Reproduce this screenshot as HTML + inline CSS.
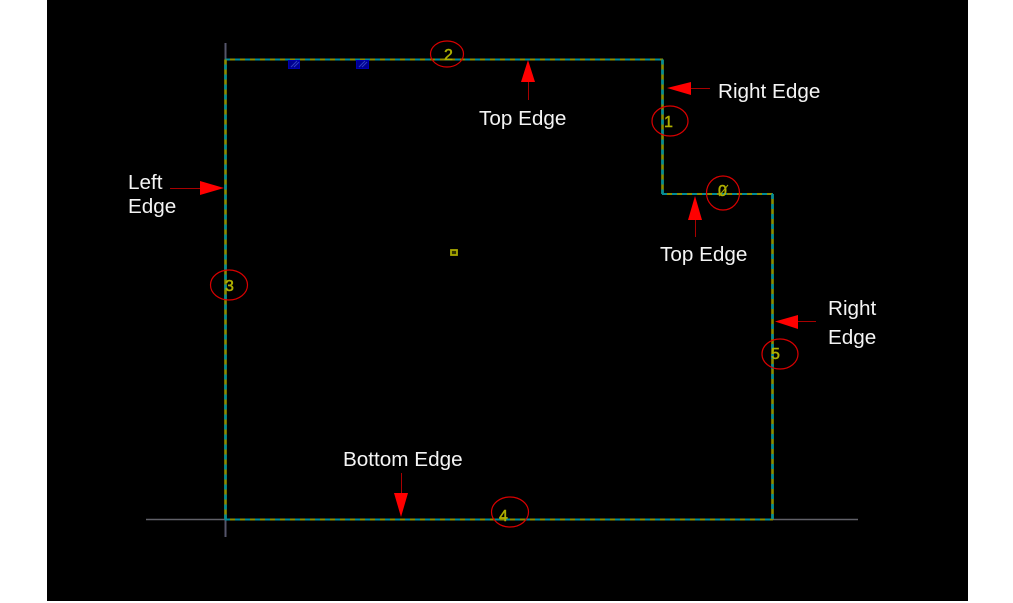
<!DOCTYPE html>
<html>
<head>
<meta charset="utf-8">
<style>
html,body{margin:0;padding:0;background:#fff;width:1013px;height:603px;overflow:hidden}
svg{display:block}
text{font-family:"Liberation Sans",sans-serif}
.l{font-size:20.7px;fill:#f4f4f4}
.n{font-family:"Liberation Sans",sans-serif;font-size:16px;fill:#b0b000;stroke:#b0b000;stroke-width:.5px}
</style>
</head>
<body>
<svg width="1013" height="603" viewBox="0 0 1013 603" xmlns="http://www.w3.org/2000/svg">
<rect x="47" y="0" width="921" height="601" fill="#000"/>
<!-- gray construction lines -->
<path d="M225.500 43V537" stroke="#55556a" stroke-width="2" fill="none"/>
<path d="M146 519.500H858" stroke="#606068" stroke-width="1.500" fill="none"/>
<!-- outline: horizontal runs -->
<path d="M225 59.500H663M662 194H773M225 519.500H773" fill="none" stroke="#8c8c00" stroke-width="2"/>
<path d="M225 59.500H663M662 194H773M225 519.500H773" fill="none" stroke="#008c9a" stroke-width="2" stroke-dasharray="5 5"/>
<!-- outline: vertical runs -->
<path d="M225.500 519.500V59.500M662.500 59.500V194M772.500 194V519.500" fill="none" stroke="#8c8c00" stroke-width="2.600"/>
<path d="M225.500 519.500V59.500M662.500 59.500V194M772.500 194V519.500" fill="none" stroke="#008c9a" stroke-width="2.600" stroke-dasharray="5 5"/>
<!-- blue markers -->
<rect x="288.500" y="60.500" width="11" height="8" fill="#000090" stroke="#0000b0" stroke-width="1"/>
<rect x="356.500" y="60.500" width="12" height="8" fill="#000090" stroke="#0000b0" stroke-width="1"/>
<g stroke="#2f3fc0" stroke-width="1" fill="none">
<path d="M291 67l6-6M294 67l5-5M359 67l6-6M362 67l5-5"/>
</g>
<!-- small yellow marker -->
<rect x="451" y="250" width="6" height="5" fill="#333300" stroke="#a8a800" stroke-width="1.800"/>
<!-- numbers -->
<text class="n" x="444" y="60">2</text>
<text class="n" x="664" y="127">1</text>
<text class="n" x="718" y="196">0</text>
<path d="M719 196l9-11" stroke="#a8a800" stroke-width="1"/>
<text class="n" x="225" y="291">3</text>
<text class="n" x="771" y="359">5</text>
<text class="n" x="499" y="521">4</text>
<!-- circles -->
<g fill="none" stroke="#d80000" stroke-width="1.200">
<ellipse cx="447" cy="54" rx="16.500" ry="13"/>
<ellipse cx="670" cy="121" rx="18" ry="15"/>
<ellipse cx="723" cy="193" rx="16.500" ry="17"/>
<ellipse cx="229" cy="285" rx="18.500" ry="15"/>
<ellipse cx="780" cy="354" rx="18" ry="15"/>
<ellipse cx="510" cy="512" rx="18.500" ry="15"/>
</g>
<!-- arrows -->
<g fill="#ff0000" stroke="none">
<polygon points="528,60 521,82 535,82"/>
<polygon points="667,88 691,82 691,95"/>
<polygon points="695,196 688,220 702,220"/>
<polygon points="224,188 200,181 200,195"/>
<polygon points="775,321.500 798,315 798,329"/>
<polygon points="401,517 394,493 408,493"/>
</g>
<g stroke="#a80000" stroke-width="1" fill="none">
<path d="M528.500 82V100"/>
<path d="M691 88.500H710"/>
<path d="M695.500 220V237"/>
<path d="M170 188.500H200"/>
<path d="M798 321.500H816"/>
<path d="M401.500 473V493"/>
</g>
<!-- labels -->
<text class="l" x="479" y="125">Top Edge</text>
<text class="l" x="718" y="98">Right Edge</text>
<text class="l" x="660" y="261">Top Edge</text>
<text class="l" x="128" y="189">Left</text>
<text class="l" x="128" y="213">Edge</text>
<text class="l" x="828" y="315">Right</text>
<text class="l" x="828" y="344">Edge</text>
<text class="l" x="343" y="466">Bottom Edge</text>
</svg>
</body>
</html>
